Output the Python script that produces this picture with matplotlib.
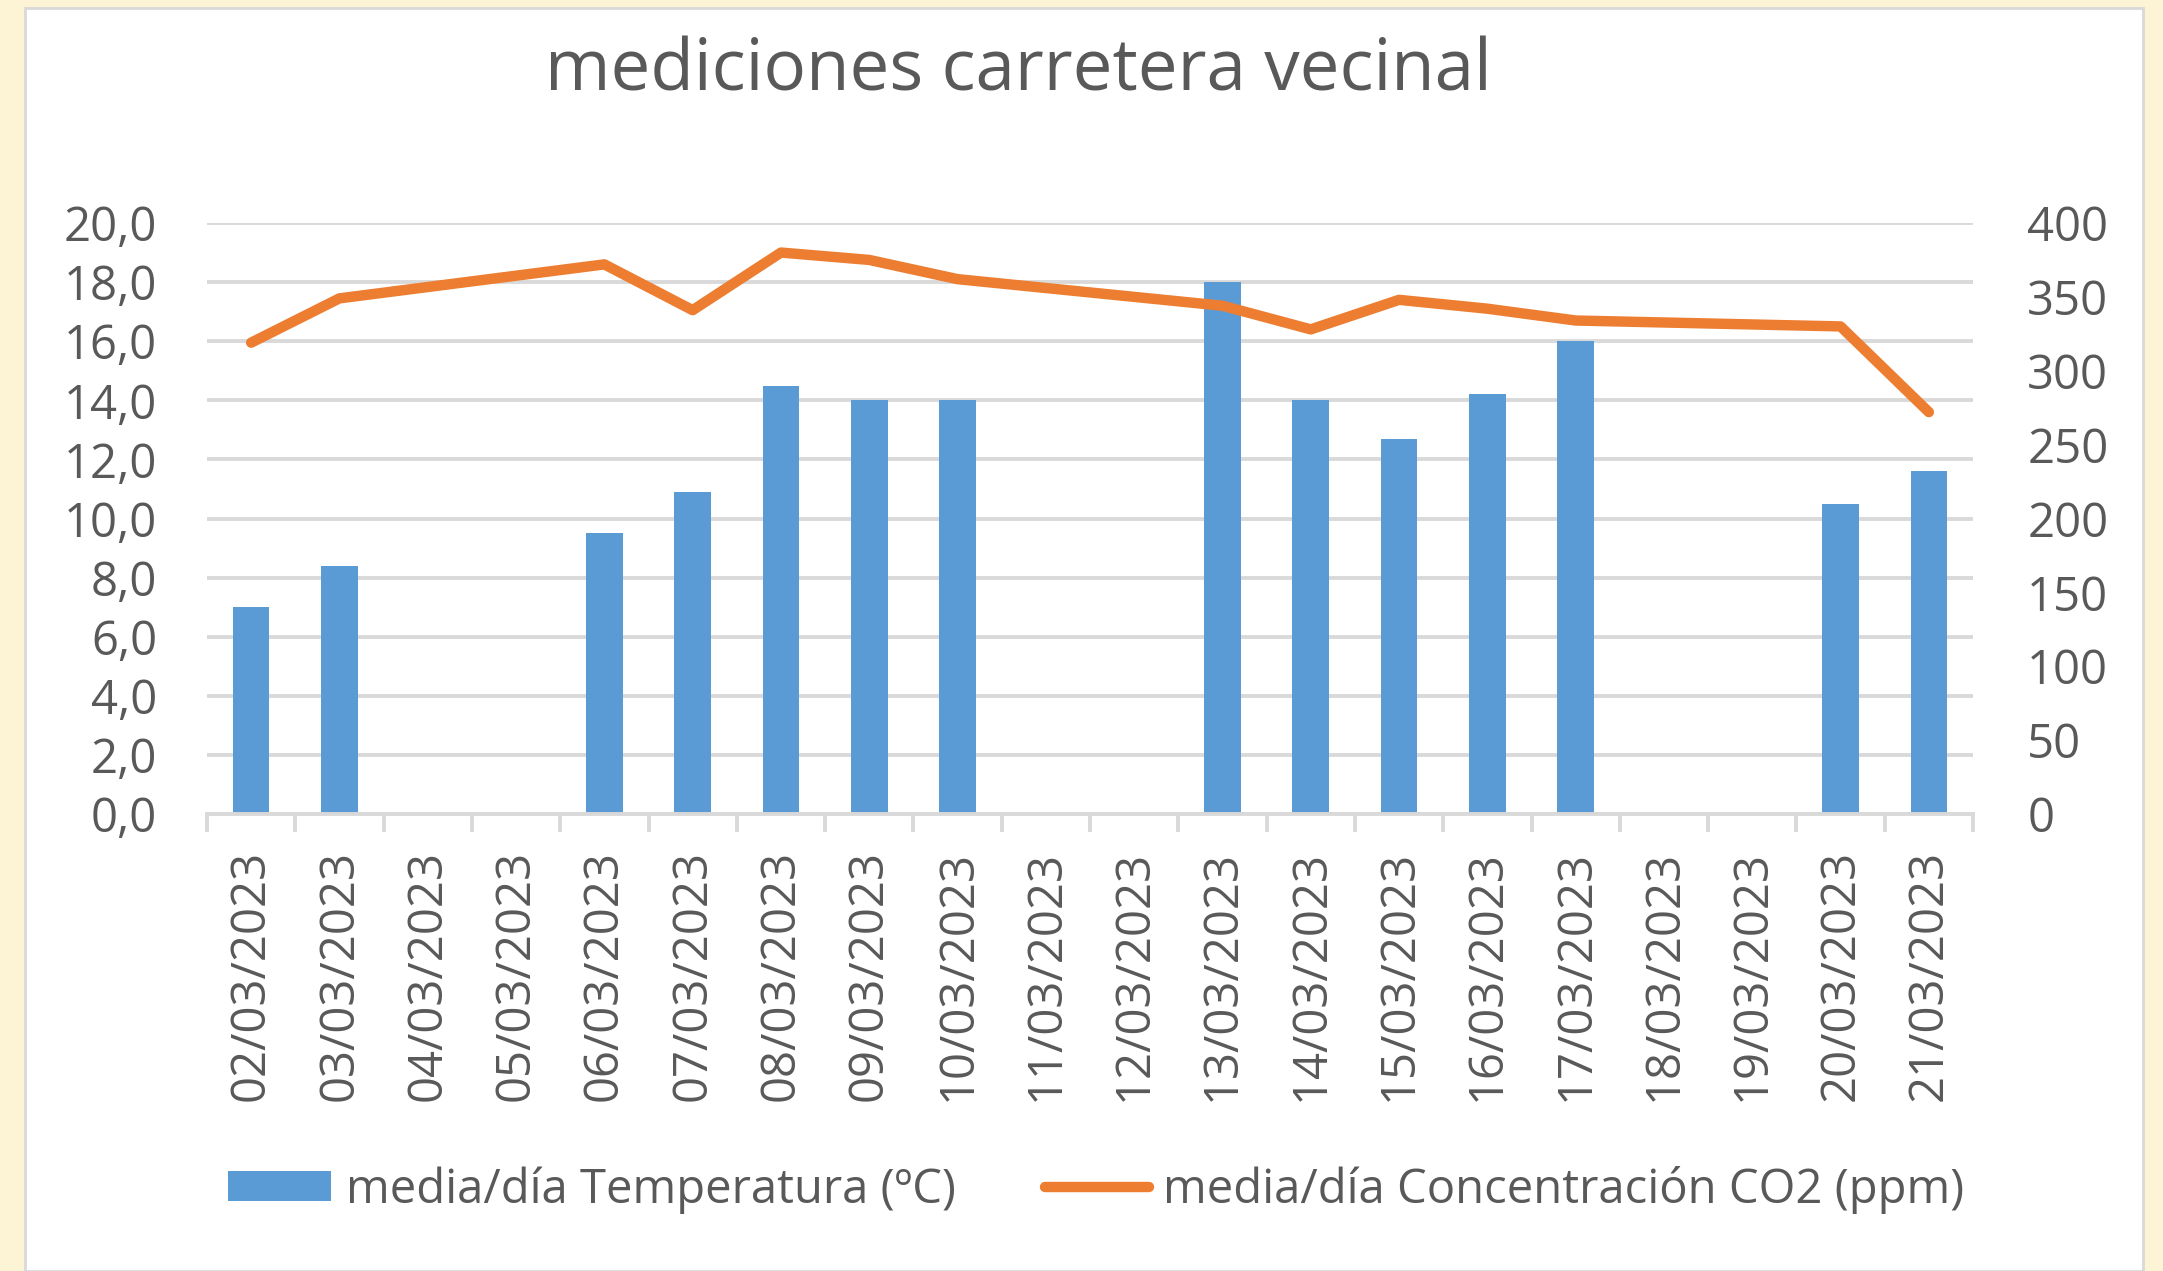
import numpy as np
import matplotlib
matplotlib.use("Agg")
import matplotlib.pyplot as plt
from matplotlib.patches import Rectangle
from matplotlib.ticker import FuncFormatter, MultipleLocator

fechas = ["02/03/2023", "03/03/2023", "04/03/2023", "05/03/2023", "06/03/2023",
          "07/03/2023", "08/03/2023", "09/03/2023", "10/03/2023", "11/03/2023",
          "12/03/2023", "13/03/2023", "14/03/2023", "15/03/2023", "16/03/2023",
          "17/03/2023", "18/03/2023", "19/03/2023", "20/03/2023", "21/03/2023"]
nan = np.nan
temperatura = [7.0, 8.4, nan, nan, 9.5, 10.9, 14.5, 14.0, 14.0, nan,
               nan, 18.0, 14.0, 12.7, 14.2, 16.0, nan, nan, 10.5, 11.6]
co2 = [319, 349, nan, nan, 372, 341, 380, 375, 362, nan,
       nan, 344, 328, 348, 342, 334, nan, nan, 330, 272]

gris_txt = "#595959"
gris_linea = "#D9D9D9"
azul = "#5B9BD5"
naranja = "#ED7D31"

plt.rcParams["font.family"] = ["Open Sans", "DejaVu Sans"]

W, H = 2163, 1271
fig = plt.figure(figsize=(W / 100, H / 100), dpi=100)
fig.patch.set_facecolor("#FDF4D6")

# white chart panel with thin border
fig.patches.append(Rectangle((25 / W, 0), (2143 - 25) / W, (H - 8) / H,
                             transform=fig.transFigure, facecolor="white",
                             edgecolor=gris_linea, linewidth=2, zorder=-10))

ax = fig.add_axes([207 / W, (H - 814) / H, (1973 - 207) / W, (814 - 223) / H])
ax.set_facecolor("none")
x = np.arange(len(fechas))
t = np.array(temperatura)
c = np.array(co2)

ok_t = ~np.isnan(t)
ax.bar(x[ok_t], t[ok_t], width=0.415, color=azul, zorder=2,
       label="media/día Temperatura (ºC)")
ax.set_ylim(0, 20)
ax.set_xlim(-0.5, len(fechas) - 0.5)
ax.yaxis.set_major_locator(MultipleLocator(2))
ax.yaxis.set_major_formatter(FuncFormatter(lambda v, p: f"{v:.1f}".replace(".", ",")))
ax.grid(axis="y", color=gris_linea, linewidth=2.8, zorder=0)
ax.set_axisbelow(True)

ax.set_xticks(x)
ax.set_xticklabels(fechas, rotation=90)
ax.set_xticks(np.arange(-0.5, len(fechas)), minor=True)
ax.tick_params(axis="x", which="major", length=0, pad=26, labelsize=34, labelcolor=gris_txt)
ax.tick_params(axis="x", which="minor", length=13, width=2.8, color=gris_linea)
ax.tick_params(axis="y", length=0, pad=36, labelsize=34, labelcolor=gris_txt)
for s in ["top", "left", "right"]:
    ax.spines[s].set_visible(False)
ax.spines["bottom"].set_color(gris_linea)
ax.spines["bottom"].set_linewidth(2.8)

ax2 = ax.twinx()
ok_c = ~np.isnan(c)
ax2.plot(x[ok_c], c[ok_c], color=naranja, linewidth=7.5, solid_capstyle="round",
         solid_joinstyle="round", zorder=3, label="media/día Concentración CO2 (ppm)")
ax2.set_ylim(0, 400)
ax2.yaxis.set_major_locator(MultipleLocator(50))
ax2.tick_params(axis="y", length=0, pad=39, labelsize=34, labelcolor=gris_txt)
for s in ax2.spines.values():
    s.set_visible(False)

fig.text(1018 / W, 1 - 72 / H, "mediciones carretera vecinal", ha="center", va="center",
         fontsize=51, color=gris_txt)

h1, l1 = ax.get_legend_handles_labels()
h2, l2 = ax2.get_legend_handles_labels()
fig.legend(h1 + h2, l1 + l2, loc="center", bbox_to_anchor=(1096 / W, 1 - 1190 / H),
           ncol=2, frameon=False, fontsize=34, labelcolor=gris_txt,
           handlelength=2.2, handleheight=0.6, handletextpad=0.3, columnspacing=1.9)

fig.savefig("out.png", dpi=100, facecolor=fig.get_facecolor())
